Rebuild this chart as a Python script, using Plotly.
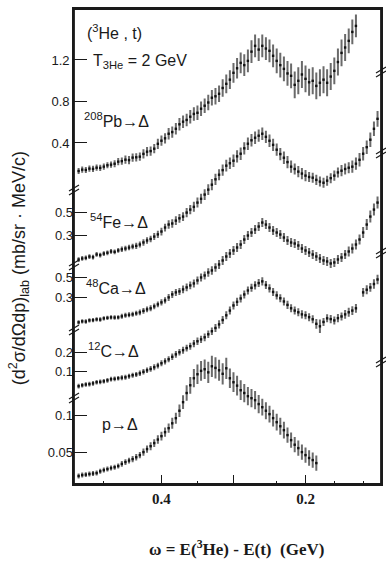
import plotly.graph_objects as go

# ---------------- data ----------------
OMEGA = [0.515, 0.51, 0.505, 0.50, 0.495, 0.49, 0.485, 0.48, 0.475, 0.47,
         0.465, 0.46, 0.455, 0.45, 0.445, 0.44, 0.435, 0.43, 0.425, 0.42,
         0.415, 0.41, 0.405, 0.40, 0.395, 0.39, 0.385, 0.38, 0.375, 0.37,
         0.365, 0.36, 0.355, 0.35, 0.345, 0.34, 0.335, 0.33, 0.325, 0.32,
         0.315, 0.31, 0.305, 0.30, 0.295, 0.29, 0.285, 0.28, 0.275, 0.27,
         0.265, 0.26, 0.255, 0.25, 0.245, 0.24, 0.235, 0.23, 0.225, 0.22,
         0.215, 0.21, 0.205, 0.20, 0.195, 0.19, 0.185, 0.18, 0.175, 0.17,
         0.165, 0.16, 0.155, 0.15, 0.145, 0.14, 0.135, 0.13, 0.125, 0.12,
         0.115, 0.11, 0.105, 0.10]

PB = [0.130, 0.143, 0.140, 0.153, 0.150, 0.162, 0.160, 0.172, 0.185, 0.191,
      0.200, 0.220, 0.225, 0.239, 0.235, 0.259, 0.262, 0.268, 0.295, 0.316,
      0.322, 0.345, 0.392, 0.422, 0.445, 0.489, 0.505, 0.537, 0.580, 0.605,
      0.622, 0.653, 0.680, 0.691, 0.730, 0.759, 0.790, 0.836, 0.850, 0.874,
      0.930, 0.970, 1.010, 1.076, 1.120, 1.172, 1.150, 1.191, 1.280, 1.336,
      1.300, 1.336, 1.310, 1.288, 1.240, 1.191, 1.150, 1.114, 1.070, 1.047,
      0.960, 0.999, 1.060, 1.018, 0.985, 0.999, 0.950, 0.980, 1.010, 0.980,
      1.040, 1.095, 1.180, 1.268, 1.320, 1.384, 1.470, 1.528]
PB_ERR = [0.02, 0.02, 0.02, 0.02, 0.02, 0.02, 0.02, 0.02, 0.02, 0.02,
          0.025, 0.025, 0.025, 0.03, 0.03, 0.03, 0.03, 0.03, 0.035, 0.035,
          0.035, 0.035, 0.04, 0.04, 0.04, 0.045, 0.045, 0.045, 0.05, 0.05,
          0.05, 0.055, 0.055, 0.06, 0.06, 0.06, 0.065, 0.065, 0.07, 0.07,
          0.075, 0.08, 0.08, 0.085, 0.09, 0.09, 0.095, 0.1, 0.1, 0.1,
          0.1, 0.1, 0.1, 0.1, 0.1, 0.11, 0.11, 0.11, 0.11, 0.11,
          0.12, 0.12, 0.12, 0.12, 0.12, 0.12, 0.12, 0.12, 0.12, 0.12,
          0.12, 0.12, 0.12, 0.12, 0.12, 0.11, 0.11, 0.1]

FE = [0.091, 0.100, 0.105, 0.117, 0.112, 0.135, 0.130, 0.143, 0.150, 0.161,
      0.158, 0.170, 0.180, 0.187, 0.195, 0.204, 0.210, 0.222, 0.240, 0.257,
      0.270, 0.291, 0.310, 0.335, 0.370, 0.396, 0.405, 0.430, 0.450, 0.465,
      0.500, 0.526, 0.550, 0.587, 0.620, 0.657, 0.700, 0.743, 0.790, 0.830,
      0.870, 0.909, 0.930, 0.952, 0.990, 1.013, 1.060, 1.100, 1.130, 1.152,
      1.170, 1.187, 1.160, 1.126, 1.090, 1.048, 1.010, 0.978, 0.940, 0.900,
      0.880, 0.857, 0.840, 0.822, 0.810, 0.804, 0.785, 0.770, 0.760, 0.778,
      0.800, 0.822, 0.850, 0.865, 0.880, 0.891, 0.900, 0.926, 0.960, 1.013,
      1.070, 1.135, 1.230, 1.317]
FE_ERR = [0.012, 0.012, 0.012, 0.012, 0.012, 0.012, 0.012, 0.012, 0.012, 0.012,
          0.012, 0.012, 0.015, 0.015, 0.015, 0.015, 0.018, 0.018, 0.02, 0.02,
          0.02, 0.022, 0.022, 0.025, 0.025, 0.028, 0.028, 0.03, 0.03, 0.03,
          0.032, 0.032, 0.035, 0.035, 0.035, 0.038, 0.038, 0.04, 0.04, 0.04,
          0.04, 0.042, 0.042, 0.045, 0.045, 0.045, 0.045, 0.045, 0.045, 0.045,
          0.045, 0.045, 0.045, 0.045, 0.045, 0.045, 0.045, 0.045, 0.045, 0.045,
          0.04, 0.04, 0.04, 0.04, 0.035, 0.035, 0.035, 0.035, 0.035, 0.035,
          0.035, 0.035, 0.035, 0.04, 0.04, 0.04, 0.045, 0.045, 0.05, 0.05,
          0.05, 0.055, 0.055, 0.06]

CA = [0.050, 0.060, 0.058, 0.070, 0.072, 0.080, 0.078, 0.090, 0.095, 0.100,
      0.098, 0.100, 0.110, 0.120, 0.125, 0.130, 0.140, 0.150, 0.165, 0.180,
      0.190, 0.210, 0.230, 0.250, 0.270, 0.300, 0.330, 0.350, 0.360, 0.380,
      0.400, 0.420, 0.440, 0.470, 0.500, 0.520, 0.550, 0.570, 0.600, 0.630,
      0.670, 0.710, 0.740, 0.770, 0.800, 0.830, 0.880, 0.920, 0.950, 0.980,
      1.010, 1.050, 1.030, 1.000, 0.970, 0.950, 0.930, 0.900, 0.870, 0.850,
      0.840, 0.820, 0.790, 0.770, 0.750, 0.730, 0.710, 0.690, 0.670, 0.660,
      0.640, 0.650, 0.680, 0.700, 0.730, 0.760, 0.790, 0.830, 0.880, 0.950,
      1.030, 1.110, 1.180, 1.250]
CA_ERR = [0.012, 0.012, 0.012, 0.012, 0.012, 0.012, 0.012, 0.012, 0.012, 0.012,
          0.012, 0.012, 0.015, 0.015, 0.015, 0.015, 0.015, 0.018, 0.018, 0.018,
          0.02, 0.02, 0.02, 0.022, 0.022, 0.025, 0.025, 0.025, 0.025, 0.028,
          0.028, 0.028, 0.03, 0.03, 0.03, 0.03, 0.032, 0.032, 0.032, 0.035,
          0.035, 0.035, 0.035, 0.035, 0.035, 0.035, 0.035, 0.035, 0.035, 0.035,
          0.035, 0.035, 0.035, 0.035, 0.035, 0.035, 0.035, 0.035, 0.035, 0.035,
          0.035, 0.035, 0.035, 0.035, 0.035, 0.035, 0.035, 0.035, 0.035, 0.035,
          0.035, 0.035, 0.035, 0.035, 0.035, 0.04, 0.04, 0.04, 0.04, 0.045,
          0.045, 0.05, 0.05, 0.05]

C12 = [0.021, 0.026, 0.030, 0.032, 0.036, 0.042, 0.044, 0.047, 0.052, 0.058,
       0.060, 0.063, 0.066, 0.068, 0.074, 0.079, 0.083, 0.089, 0.097, 0.105,
       0.112, 0.121, 0.130, 0.142, 0.152, 0.163, 0.176, 0.189, 0.200, 0.211,
       0.222, 0.232, 0.246, 0.258, 0.268, 0.279, 0.295, 0.311, 0.328, 0.347,
       0.370, 0.395, 0.420, 0.447, 0.466, 0.484, 0.505, 0.526, 0.540, 0.553,
       0.565, 0.574, 0.555, 0.537, 0.518, 0.500, 0.485, 0.468, 0.450, 0.432,
       0.420, 0.411, 0.400, 0.395, 0.385, 0.374, 0.350, 0.337, 0.360, 0.379,
       0.375, 0.368, 0.380, 0.389, 0.400, 0.411, 0.420, 0.432, None, 0.516,
       0.530, 0.542, 0.560, 0.584]
C12_ERR = [0.007, 0.007, 0.007, 0.007, 0.007, 0.007, 0.007, 0.007, 0.007, 0.007,
           0.007, 0.007, 0.008, 0.008, 0.008, 0.008, 0.008, 0.009, 0.009, 0.009,
           0.01, 0.01, 0.01, 0.011, 0.011, 0.011, 0.012, 0.012, 0.012, 0.013,
           0.013, 0.013, 0.014, 0.014, 0.014, 0.015, 0.015, 0.015, 0.016, 0.016,
           0.016, 0.016, 0.016, 0.016, 0.016, 0.016, 0.016, 0.016, 0.016, 0.016,
           0.016, 0.016, 0.016, 0.016, 0.016, 0.016, 0.016, 0.016, 0.016, 0.016,
           0.016, 0.016, 0.016, 0.016, 0.016, 0.016, 0.02, 0.03, 0.016, 0.016,
           0.016, 0.016, 0.016, 0.016, 0.018, 0.018, 0.018, 0.018, 0.0, 0.018,
           0.018, 0.018, 0.02, 0.02]

PR = [0.0176, 0.0189, 0.0195, 0.0203, 0.0210, 0.0216, 0.0240, 0.0257, 0.0270, 0.0284,
      0.0295, 0.0311, 0.0340, 0.0365, 0.0385, 0.0405, 0.0430, 0.0459, 0.0500, 0.0541,
      0.0580, 0.0622, 0.0670, 0.0716, 0.0770, 0.0824, 0.0890, 0.0959, 0.1060, 0.1176,
      0.1300, 0.1405, 0.1500, 0.1554, 0.1600, 0.1622, 0.1580, 0.1662, 0.1640, 0.1608,
      0.1560, 0.1635, 0.1500, 0.1446, 0.1400, 0.1338, 0.1300, 0.1257, 0.1230, 0.1203,
      0.1150, 0.1108, 0.1060, 0.1014, 0.0960, 0.0905, 0.0850, 0.0797, 0.0730, 0.0662,
      0.0600, 0.0554, 0.0500, 0.0459, 0.0420, 0.0392, 0.0351]
PR_ERR = [0.002, 0.002, 0.002, 0.002, 0.002, 0.002, 0.002, 0.002, 0.002, 0.002,
          0.002, 0.002, 0.0025, 0.0025, 0.0025, 0.003, 0.003, 0.003, 0.0035, 0.0035,
          0.004, 0.004, 0.0045, 0.0045, 0.005, 0.005, 0.006, 0.006, 0.007, 0.008,
          0.009, 0.010, 0.011, 0.012, 0.012, 0.012, 0.013, 0.013, 0.013, 0.013,
          0.013, 0.013, 0.012, 0.012, 0.012, 0.012, 0.011, 0.011, 0.011, 0.011,
          0.011, 0.010, 0.010, 0.010, 0.010, 0.010, 0.010, 0.010, 0.009, 0.009,
          0.009, 0.009, 0.009, 0.009, 0.009, 0.009, 0.009]

X_TICKS = [0.4, 0.3, 0.2]
X_TICKTEXT = ["0.4", "", "0.2"]
X_MINOR = [0.48, 0.35, 0.24, 0.16, 0.12]

PANEL_TICKS = {
    "Pb": ([0.4, 0.8, 1.2], ["0.4", "0.8", "1.2"]),
    "Fe": ([0.3, 0.5], ["0.3", "0.5"]),
    "Ca": ([0.3, 0.5], ["0.3", "0.5"]),
    "C": ([0.1, 0.2], ["0.1", "0.2"]),
    "p": ([0.05, 0.1], ["0.05", "0.1"]),
}
PANEL_RANGES = {
    "Pb": [-2.886, 1.691],
    "Fe": [-1.865, 2.274],
    "Ca": [-1.57, 3.19],
    "C": [-0.495, 2.011],
    "p": [0.0068, 0.650],
}

# ---------------- layout geometry ----------------
W, H = 386, 563
L, R, T, B = 74, 3, 9, 79
PW, PH = W - L - R, H - T - B


def px(x):
    return (x - L) / PW


def py(y):
    return (H - B - y) / PH


SANS = "Liberation Sans, Arial, DejaVu Sans, sans-serif"
SERIF = "Liberation Serif, Times New Roman, DejaVu Serif, serif"
INK = "#1a1a1a"

fig = go.Figure()

series = [
    ("y", PB, PB_ERR),
    ("y2", FE, FE_ERR),
    ("y3", CA, CA_ERR),
    ("y4", C12, C12_ERR),
    ("y5", PR, PR_ERR),
]
for axis, vals, errs in series:
    fig.add_trace(go.Scatter(
        x=OMEGA[:len(vals)], y=vals, yaxis=axis, mode="markers",
        marker=dict(symbol="square", size=2.4, color="#111111"),
        error_y=dict(type="data", array=errs, thickness=2.0, width=1.0,
                     color="#6a6a6a"),
        showlegend=False, hoverinfo="skip"))

axis_common = dict(
    ticks="inside", ticklen=13, tickwidth=1.4, tickcolor=INK,
    showgrid=False, zeroline=False, anchor="x", side="left",
    tickfont=dict(family=SANS, size=13, color=INK), domain=[0, 1],
)

names = ["Pb", "Fe", "Ca", "C", "p"]
for i, n in enumerate(names):
    key = "yaxis" if i == 0 else f"yaxis{i + 1}"
    tv, tt = PANEL_TICKS[n]
    cfg = dict(axis_common, range=PANEL_RANGES[n], tickvals=tv, ticktext=tt,
               tickmode="array")
    if i == 0:
        cfg.update(showline=True, mirror=True, linewidth=1.6, linecolor=INK)
    else:
        cfg.update(overlaying="y", showline=False)
    fig.update_layout(**{key: cfg})

fig.update_xaxes(
    range=[0.5214, 0.0952], tickmode="array", tickvals=X_TICKS,
    ticktext=X_TICKTEXT, ticks="inside", ticklen=9, tickwidth=1.4,
    tickcolor=INK, showline=True, mirror=True, linewidth=1.6, linecolor=INK,
    showgrid=False, zeroline=False,
    tickfont=dict(family=SERIF, size=15, color=INK, weight="bold"),
    minor=dict(tickmode="array", tickvals=X_MINOR, ticks="inside", ticklen=3,
               tickwidth=1, tickcolor=INK, showgrid=False),
)

ann = []


def add_text(x, y, text, size=16, family=SANS, angle=0, weight="normal",
             xanchor="center"):
    ann.append(dict(x=px(x), y=py(y), xref="paper", yref="paper", text=text,
                    showarrow=False, textangle=angle, xanchor=xanchor,
                    yanchor="middle",
                    font=dict(family=family, size=size, color=INK,
                              weight=weight)))


add_text(85, 32, "(<sup>3</sup>He , t)", size=16, xanchor="left")
add_text(91, 62, "T<sub>3He</sub> = 2 GeV", size=16, xanchor="left")
add_text(82, 120, "<sup>208</sup>Pb→Δ", size=16, xanchor="left")
add_text(88, 221, "<sup>54</sup>Fe→Δ", size=16, xanchor="left")
add_text(84, 287, "<sup>48</sup>Ca→Δ", size=16, xanchor="left")
add_text(86, 350, "<sup>12</sup>C→Δ", size=16, xanchor="left")
add_text(100, 424, "p→Δ", size=16, xanchor="left")
add_text(18, 268, "(d<sup>2</sup>σ/dΩdp)<sub>lab</sub> (mb/sr · MeV/c)",
         size=18, angle=-90)
add_text(238, 548, "ω = E(<sup>3</sup>He) - E(t)  (GeV)", size=17,
         family=SERIF, weight="bold")

FRAME = dict(color=INK, width=1.8)
shapes = [
    dict(type="line", xref="paper", yref="paper", x0=0, x1=0, y0=0, y1=1,
         line=FRAME, layer="above"),
    dict(type="line", xref="paper", yref="paper", x0=1, x1=1, y0=0, y1=1,
         line=FRAME, layer="above"),
    dict(type="line", xref="paper", yref="paper", x0=0, x1=1, y0=1, y1=1,
         line=FRAME, layer="above"),
    dict(type="line", xref="paper", yref="paper", x0=0, x1=1, y0=0, y1=0,
         line=FRAME, layer="above"),
]
for yb in [190, 265, 330, 398]:
    for off in [-2, 2]:
        shapes.append(dict(type="line", xref="paper", yref="paper",
                           xsizemode="pixel", ysizemode="pixel",
                           xanchor=0, yanchor=py(yb),
                           x0=-5, x1=5, y0=off - 3, y1=off + 3,
                           line=dict(color=INK, width=1.2)))
for yb in [72, 153, 253, 362]:
    for off in [-2, 2]:
        shapes.append(dict(type="line", xref="paper", yref="paper",
                           xsizemode="pixel", ysizemode="pixel",
                           xanchor=1, yanchor=py(yb),
                           x0=-5, x1=5, y0=off - 3, y1=off + 3,
                           line=dict(color=INK, width=1.2)))

fig.update_layout(
    width=W, height=H, margin=dict(l=L, r=R, t=T, b=B, pad=0),
    paper_bgcolor="white", plot_bgcolor="white",
    annotations=ann, shapes=shapes, showlegend=False,
)

fig.write_html(
    "out.html",
    config={"displayModeBar": False},
    post_script="document.body.style.margin='0';"
                "document.body.style.overflow='hidden';",
)
